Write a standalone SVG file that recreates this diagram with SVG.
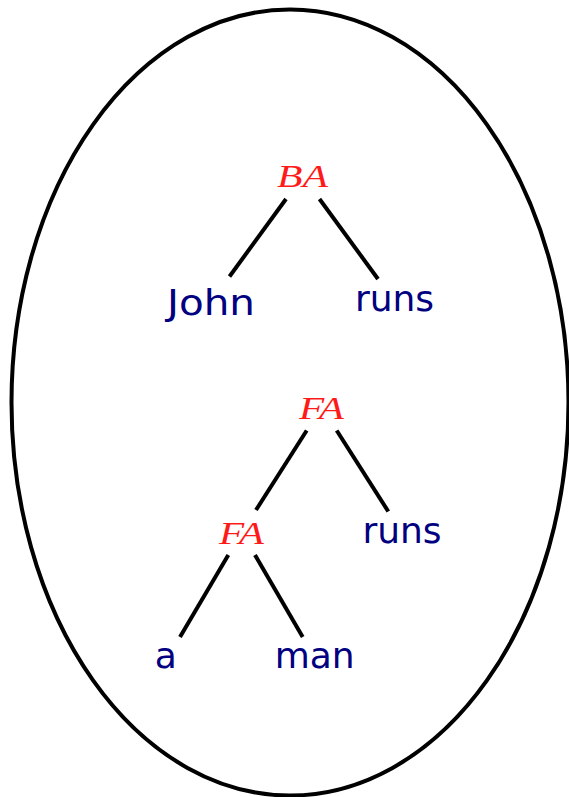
<svg xmlns="http://www.w3.org/2000/svg" width="569" height="797" viewBox="0 0 569 797">
<style>
.word{font-family:"DejaVu Sans","Liberation Sans",sans-serif;font-size:36px;fill:#000080;text-anchor:middle}
.cat{font-family:"Liberation Serif","DejaVu Serif",serif;font-style:italic;font-size:32px;fill:#ff1a1a;text-anchor:middle}
.edge{stroke:#000;stroke-width:4;stroke-linecap:butt;fill:none}
</style>
<rect width="569" height="797" fill="#fff"/>
<ellipse id="frame" cx="290" cy="402.5" rx="278.5" ry="393" fill="none" stroke="#000" stroke-width="4"/>
<g id="connectors">
<line class="edge" x1="286" y1="199" x2="229.5" y2="276.5"/>
<line class="edge" x1="319.5" y1="199" x2="378" y2="279"/>
<line class="edge" x1="306.7" y1="430.5" x2="256" y2="510"/>
<line class="edge" x1="336.7" y1="430.5" x2="388.3" y2="511.5"/>
<line class="edge" x1="228.3" y1="555" x2="180" y2="637"/>
<line class="edge" x1="255" y1="555" x2="302.7" y2="637"/>
</g>
<g id="ba"><text class="cat" x="302.5" y="187" textLength="51" lengthAdjust="spacingAndGlyphs">BA</text></g>
<g id="john"><text class="word" x="211" y="315" textLength="88" lengthAdjust="spacingAndGlyphs">John</text></g>
<g id="runs1"><text class="word" x="394.5" y="311">runs</text></g>
<g id="fa1"><text class="cat" x="321.5" y="419" textLength="45" lengthAdjust="spacingAndGlyphs">FA</text></g>
<g id="fa2"><text class="cat" x="241.5" y="544" textLength="45" lengthAdjust="spacingAndGlyphs">FA</text></g>
<g id="runs2"><text class="word" x="402" y="543">runs</text></g>
<g id="a"><text class="word" x="165.7" y="668">a</text></g>
<g id="man"><text class="word" x="314.7" y="668">man</text></g>
</svg>
